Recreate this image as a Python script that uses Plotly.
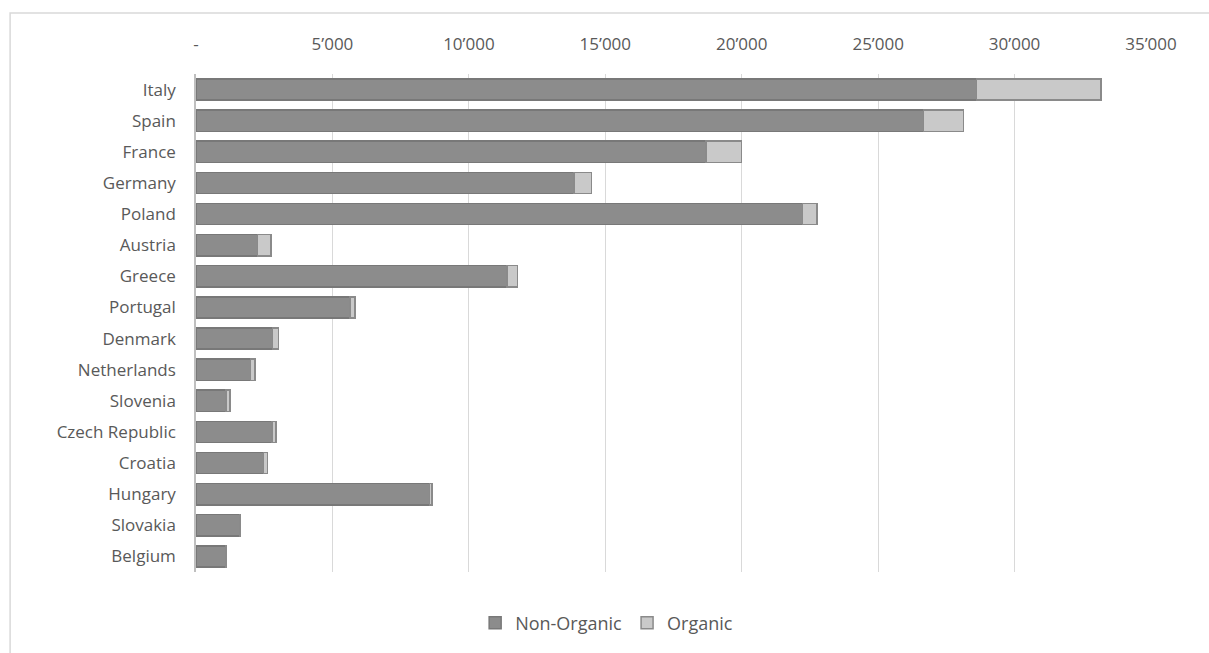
import plotly.graph_objects as go

countries = ["Italy", "Spain", "France", "Germany", "Poland", "Austria", "Greece",
             "Portugal", "Denmark", "Netherlands", "Slovenia", "Czech Republic",
             "Croatia", "Hungary", "Slovakia", "Belgium"]
non_organic = [28600, 26670, 18700, 13850, 22220, 2260, 11390,
               5640, 2810, 2000, 1100, 2780, 2480, 8550, 1610, 1100]
organic = [4570, 1460, 1300, 650, 540, 480, 400,
           195, 205, 170, 145, 150, 145, 95, 15, 10]

tick_vals = [0, 5000, 10000, 15000, 20000, 25000, 30000, 35000]
tick_text = ["-", "5\u2019000", "10\u2019000", "15\u2019000", "20\u2019000",
             "25\u2019000", "30\u2019000", "35\u2019000"]

font_family = "Open Sans, Noto Sans, sans-serif"
text_color = "#595959"

fig = go.Figure()
fig.add_trace(go.Bar(
    y=countries, x=non_organic, orientation="h", name="Non-Organic",
    marker=dict(color="#8c8c8c", line=dict(color="#787878", width=1.5)),
))
fig.add_trace(go.Bar(
    y=countries, x=organic, orientation="h", name="Organic",
    marker=dict(color="#c9c9c9", line=dict(color="#8a8a8a", width=1.5)),
))

W, H = 1209, 653
ml, mr, mt, mb = 196, 57.5, 74, 81
pw = W - ml - mr
ph = H - mt - mb

def px_x(x):
    return (x - ml) / pw

def px_y(y):
    return (H - mb - y) / ph

fig.add_shape(type="rect", xref="paper", yref="paper",
              x0=px_x(10), x1=px_x(1240), y0=px_y(13), y1=px_y(700),
              line=dict(color="#d9d9d9", width=1.5), fillcolor="rgba(0,0,0,0)",
              layer="below")

fig.update_layout(
    width=W, height=H,
    margin=dict(l=ml, r=mr, t=mt, b=mb, pad=0),
    barmode="stack",
    bargap=0.32,
    plot_bgcolor="white",
    paper_bgcolor="white",
    font=dict(family=font_family, size=16, color=text_color),
    xaxis=dict(
        side="top", range=[0, 35000], tickvals=tick_vals, ticktext=tick_text,
        showgrid=True, gridcolor="#d9d9d9", gridwidth=1, zeroline=False,
        showline=False, ticks="", fixedrange=True, ticklabelstandoff=20,
        tickfont=dict(size=17, color=text_color),
    ),
    yaxis=dict(
        autorange="reversed", showgrid=False, zeroline=False,
        showline=True, linecolor="#bfbfbf", linewidth=1.5, ticks="",
        ticklabelstandoff=15,
        tickfont=dict(size=17, color=text_color),
    ),
    legend=dict(
        orientation="h", x=0.43, xanchor="center", y=px_y(623), yanchor="middle",
        font=dict(size=18, color=text_color), traceorder="normal",
        itemwidth=30,
    ),
    showlegend=True,
)

fig.write_html("out.html")
